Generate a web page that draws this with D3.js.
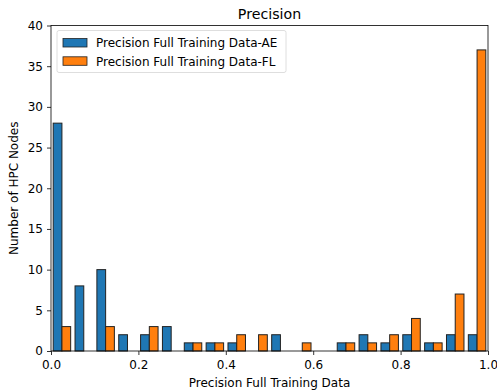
<!DOCTYPE html>
<html>
<head>
<meta charset="utf-8">
<script src="https://cdn.jsdelivr.net/npm/d3@7"></script>
<style>
  body { margin: 0; background: #fff; }
  text { font-family: "DejaVu Sans", sans-serif; fill: #000; }
</style>
</head>
<body>
<div id="chart"></div>
<script>
// histogram counts, 20 bins of width 0.05 from 0 to 1
var binStarts = d3.range(20).map(function (i) { return i * 0.05; });
var countsAE = [28, 8, 10, 2, 2, 3, 1, 1, 1, 0, 2, 0, 0, 1, 2, 1, 2, 1, 2, 2];
var countsFL = [3, 0, 3, 0, 3, 0, 1, 1, 2, 2, 0, 1, 0, 1, 1, 2, 4, 1, 7, 37];
var xTicks = [0, 0.2, 0.4, 0.6, 0.8, 1.0];
var yTicks = [0, 5, 10, 15, 20, 25, 30, 35, 40];
var seriesNames = ["Precision Full Training Data-AE", "Precision Full Training Data-FL"];
var colors = ["#1f77b4", "#ff7f0e"];

var W = 497, H = 391;
var margin = { top: 25.5, right: 9, bottom: 40, left: 51 },
  width = W - margin.left - margin.right,
  height = H - margin.top - margin.bottom;

var svg = d3.select("#chart").append("svg")
  .attr("width", W).attr("height", H);
var g = svg.append("g")
  .attr("transform", "translate(" + margin.left + "," + margin.top + ")");

var x = d3.scaleLinear().domain([0, 1]).range([0, width]);
var y = d3.scaleLinear().domain([0, 40]).range([height, 0]);

// bars (matplotlib style: 80% of bin width, split between series)
var binW = 0.05, barW = binW * 0.8 / 2, off = binW * 0.1;
[countsAE, countsFL].forEach(function (counts, s) {
  g.selectAll(".bar" + s)
    .data(counts)
    .enter()
    .append("rect")
    .attr("x", function (d, i) { return x(binStarts[i] + off + s * barW); })
    .attr("width", x(barW) - x(0))
    .attr("y", function (d) { return y(d); })
    .attr("height", function (d) { return y(0) - y(d); })
    .attr("fill", colors[s])
    .attr("stroke", "#222")
    .attr("stroke-width", 1);
});

// axes
var xAxis = g.append("g")
  .attr("transform", "translate(0," + height + ")")
  .call(d3.axisBottom(x).tickValues(xTicks).tickFormat(d3.format(".1f")).tickSizeOuter(0).tickSize(4).tickPadding(5));
var yAxis = g.append("g")
  .call(d3.axisLeft(y).tickValues(yTicks).tickSizeOuter(0).tickSize(4).tickPadding(4));
[xAxis, yAxis].forEach(function (a) {
  a.select(".domain").remove();
  a.selectAll("text").style("font-size", "12px").style("font-family", "DejaVu Sans, sans-serif");
  a.selectAll("line").attr("stroke", "#000").attr("stroke-width", 0.8);
});

// frame
g.append("rect")
  .attr("width", width).attr("height", height)
  .attr("fill", "none").attr("stroke", "#000").attr("stroke-width", 0.8);

// title and labels
svg.append("text")
  .attr("x", margin.left + width / 2).attr("y", 18.5)
  .attr("text-anchor", "middle").style("font-size", "14.2px")
  .text("Precision");
svg.append("text")
  .attr("x", margin.left + width / 2).attr("y", 386.5)
  .attr("text-anchor", "middle").style("font-size", "12px")
  .text("Precision Full Training Data");
svg.append("text")
  .attr("transform", "translate(18," + (margin.top + height / 2) + ") rotate(-90)")
  .attr("text-anchor", "middle").style("font-size", "12px")
  .text("Number of HPC Nodes");

// legend
var leg = svg.append("g").attr("transform", "translate(57,30.5)");
leg.append("rect")
  .attr("width", 229).attr("height", 42).attr("rx", 2)
  .attr("fill", "#fff").attr("fill-opacity", 0.8)
  .attr("stroke", "#d6d6d6").attr("stroke-width", 0.8);
seriesNames.forEach(function (name, i) {
  leg.append("rect")
    .attr("x", 6).attr("y", 8 + i * 18.3)
    .attr("width", 24).attr("height", 8.5)
    .attr("fill", colors[i]).attr("stroke", "#222").attr("stroke-width", 0.8);
  leg.append("text")
    .attr("x", 39).attr("y", 16.8 + i * 18.3)
    .style("font-size", "12px")
    .text(name);
});
</script>
</body>
</html>
